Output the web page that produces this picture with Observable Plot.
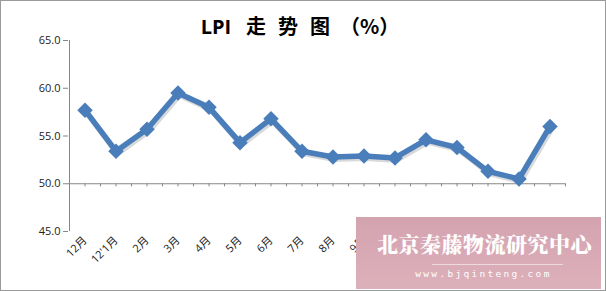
<!DOCTYPE html>
<html>
<head>
<meta charset="utf-8">
<script src="https://cdn.jsdelivr.net/npm/d3@7"></script>
<script src="https://cdn.jsdelivr.net/npm/@observablehq/plot@0.6"></script>
<style>
  body { margin: 0; background: #fff; }
  #wrap { position: relative; width: 606px; height: 291px; overflow: hidden; font-family: "Open Sans", "Noto Sans CJK SC", sans-serif; }
  #chart { position: absolute; left: 0; top: 0; }
  #title { position: absolute; left: 0; width: 606px; top: 12px; text-align: center; font-size: 20px; color: #000; font-family: "Noto Sans CJK SC", sans-serif; font-weight: 700; white-space: nowrap; line-height: 28px; }
  #title span { margin: 0 6px; }
  #title span.p { font-family: "Noto Sans CJK SC", sans-serif; margin-left: 4px; }
  #title b { font-family: "Open Sans", sans-serif; font-weight: 700; margin-right: 9px; }
  #border { position: absolute; left: 0; top: 0; width: 604px; height: 289px; border: 1px solid #9a9a9a; pointer-events: none; }
  #wm { position: absolute; left: 356px; top: 217px; width: 245px; height: 72px; background: linear-gradient(#d4a3b0, #dcb0ba); color: #fff; text-align: center; }
  #wm .cn { font-family: "Noto Serif CJK SC", "Noto Sans CJK SC", serif; font-weight: 900; font-size: 21px; letter-spacing: 0.5px; margin-top: 15px; line-height: 22px; margin-left: 12px; }
  #wm .ln { margin: 10px 0 0 76px; width: 131px; border-top: 1px solid rgba(255,255,255,0.55); }
  #wm .url { font-family: "DejaVu Sans Mono", monospace; font-size: 9.5px; letter-spacing: 2.3px; margin-top: 3px; margin-left: 10px; }
</style>
</head>
<body>
<div id="wrap">
  <div id="chart"></div>
  <div id="title"><b>LPI</b><span>走</span><span>势</span><span>图</span><span class="p">（%）</span></div>
  <div id="wm"><div class="cn">北京秦藤物流研究中心</div><div class="ln"></div><div class="url">www.bjqinteng.com</div></div>
  <div id="border"></div>
</div>
<script>
const months = ["12月", "12'1月", "2月", "3月", "4月", "5月", "6月", "7月", "8月", "9月", "10月", "11月", "12月 ", "13'1月", "2月 ", "3月 "];
const lpi = [57.7, 53.4, 55.7, 59.5, 58.0, 54.3, 56.8, 53.4, 52.8, 52.9, 52.7, 54.6, 53.8, 51.3, 50.5, 56.0];
const yTicks = [45, 50, 55, 60, 65];

const data = months.map((m, i) => ({month: m, value: lpi[i]}));
const axisGray = "#868686";
const blue = "#4A7EBB";
const last = [months[months.length - 1]];

const chart = Plot.plot({
  width: 606,
  height: 291,
  marginLeft: 68,
  marginRight: 41,
  marginTop: 40,
  marginBottom: 60,
  style: {fontFamily: "'Open Sans', 'Noto Sans CJK SC', sans-serif", fontSize: "11px", color: "#222", background: "transparent"},
  x: {type: "band", domain: months, padding: 0, label: null},
  y: {domain: [45, 65], label: null},
  marks: [
    Plot.axisY({ticks: yTicks, tickFormat: d3.format(".1f"), tickSize: 5, tickPadding: 3, stroke: axisGray, fontSize: 11, color: "#222", label: null}),
    Plot.ruleX([0], {x: () => months[0], y1: 45, y2: 65, dx: -15.5, stroke: axisGray}),
    Plot.axisX({anchor: "bottom", tickSize: 0, tickRotate: -45, tickPadding: 7, fontSize: 11, label: null, tickFormat: d => d.trim()}),
    Plot.ruleY([50], {stroke: axisGray}),
    Plot.ruleX(months, {x: d => d, y1: 50, y2: 49.68, stroke: axisGray}),
    Plot.ruleX(months, {x: d => d, y1: 50, y2: 49.68, dx: -15.5, stroke: axisGray}),
    Plot.ruleX(last, {x: d => d, y1: 50, y2: 49.68, dx: 15.5, stroke: axisGray}),
    // soft shadow
    Plot.line(data, {x: "month", y: "value", stroke: "#000", strokeOpacity: 0.15, strokeWidth: 6, dx: 1.5, dy: 2}),
    Plot.line(data, {x: "month", y: "value", stroke: blue, strokeWidth: 5.5}),
    Plot.dot(data, {x: "month", y: "value", symbol: "diamond2", fill: blue, r: 7})
  ]
});
document.getElementById("chart").appendChild(chart);
</script>
</body>
</html>
